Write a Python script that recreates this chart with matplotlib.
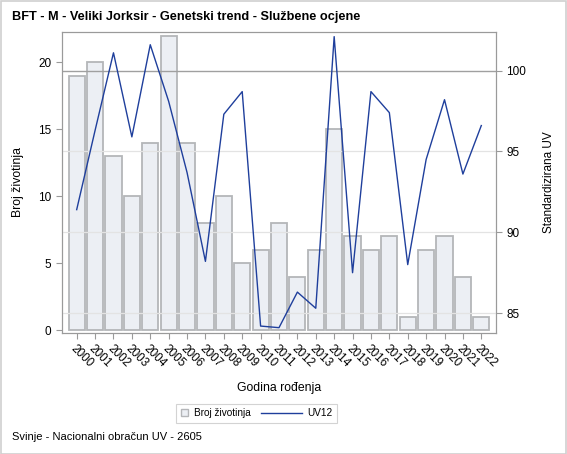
import matplotlib.pyplot as plt
from matplotlib.lines import Line2D
from matplotlib.patches import Patch
from matplotlib.legend_handler import HandlerBase
import numpy as np

plt.rcParams['font.family'] = ['Liberation Sans', 'DejaVu Sans']

years = [str(y) for y in range(2000, 2023)]
broj = [19, 20, 13, 10, 14, 22, 14, 8, 10, 5, 6, 8, 4, 6, 15, 7, 6, 7, 1, 6, 7, 4, 1]
uv12 = [91.4, 96.3, 101.1, 95.9, 101.6, 98.1, 93.7, 88.2, 97.3, 98.7, 84.2, 84.1,
        86.3, 85.3, 102.1, 87.5, 98.7, 97.4, 88.0, 94.5, 98.2, 93.6, 96.6]
right_ticks = [85, 90, 95, 100]
left_ticks = [0, 5, 10, 15, 20]

grey = '#9a9a9a'
bar_fill = '#eceff4'
bar_edge = '#b4b6b9'
line_col = '#1f3f9c'


class LongLine(HandlerBase):
    # line sample that reaches back into the column gap
    def create_artists(self, legend, orig_handle, xdescent, ydescent, width, height,
                       fontsize, trans):
        y = height / 2 - ydescent
        ln = Line2D([-xdescent - 3.4 * fontsize, width - xdescent], [y, y],
                    color=orig_handle.get_color(), linewidth=orig_handle.get_linewidth(),
                    transform=trans)
        return [ln]


fig = plt.figure(figsize=(5.67, 4.54), dpi=100)
ax = fig.add_axes([0.1093, 0.2665, 0.7655, 0.6635])
ax2 = ax.twinx()

x = np.arange(len(years))
ax.bar(x, broj, width=0.88, color=bar_fill, edgecolor=bar_edge, linewidth=1.3, zorder=2)
ax.set_xlim(-0.8, len(years) - 0.2)
ax.set_ylim(-0.22, 22.28)
ax.set_yticks(left_ticks)
ax.set_xticks(x)
ax.set_xticklabels(years, rotation=-45, ha='left', va='top', rotation_mode='anchor',
                   fontsize=8.5)
ax.tick_params(axis='x', colors=grey, labelcolor='black', length=4, pad=3)
ax.tick_params(axis='y', colors=grey, labelcolor='black', length=4, labelsize=8.5)
ax.set_xlabel('Godina rođenja', fontsize=8.8, labelpad=9)
ax.set_ylabel('Broj životinja', fontsize=8.8, labelpad=10)

ax2.set_ylim(83.77, 102.4)
ax2.set_yticks(right_ticks)
for v in right_ticks[:-1]:
    ax2.axhline(v, color='#e3e3e3', linewidth=0.9, zorder=0)
ax2.axhline(100, color='#a0a0a0', linewidth=1.0, zorder=1)
ax2.plot(x, uv12, color=line_col, linewidth=1.0, zorder=3)
ax2.tick_params(axis='y', colors=grey, labelcolor='black', length=4, labelsize=8.5)
ax2.set_ylabel('Standardizirana UV', fontsize=8.5, labelpad=12)

ax.set_zorder(ax2.get_zorder() - 1)
ax2.patch.set_visible(False)
ax.set_facecolor('white')
for a in (ax, ax2):
    for s in a.spines.values():
        s.set_color(grey)

bar_handle = Patch(facecolor=bar_fill, edgecolor=bar_edge, linewidth=1.0)
line_handle = Line2D([], [], color=line_col, linewidth=1.0)
leg = fig.legend([bar_handle, line_handle], ['Broj životinja', 'UV12'], loc='center',
                 bbox_to_anchor=(0.453, 0.09), ncol=2, fontsize=7.2, frameon=True,
                 fancybox=False, edgecolor='#c8c8c8', handlelength=0.75,
                 handleheight=0.75, columnspacing=4.4, borderpad=0.45,
                 handletextpad=0.55, handler_map={Line2D: LongLine()})
leg.get_frame().set_linewidth(0.8)

fig.text(0.021, 0.962, 'BFT - M - Veliki Jorksir - Genetski trend - Službene ocjene',
         fontsize=9.2, fontweight='bold', va='center')
fig.text(0.021, 0.037, 'Svinje - Nacionalni obračun UV - 2605', fontsize=8, va='center')

fig.patches.append(plt.Rectangle((0.001, 0.001), 0.997, 0.997, transform=fig.transFigure,
                                 fill=False, edgecolor='#d0d0d0', linewidth=1.2))

fig.savefig('out.png', dpi=100)
